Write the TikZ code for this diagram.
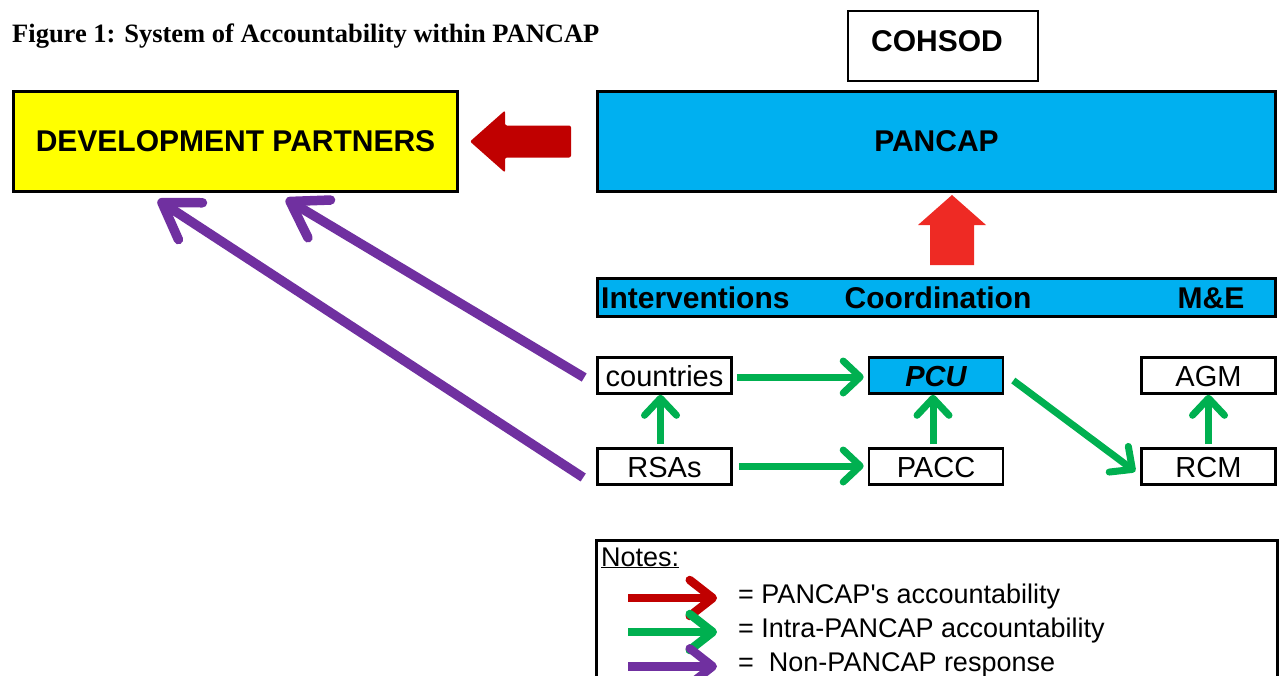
\documentclass[tikz,border=0pt]{standalone}
\usepackage{fontspec}
\setmainfont{Liberation Sans}
\newfontfamily\titlefont{Liberation Serif}
\usetikzlibrary{arrows.meta,calc}
\definecolor{cyanbox}{HTML}{00B0F0}
\definecolor{yellowbox}{HTML}{FFFF00}
\definecolor{darkred}{HTML}{C00000}
\definecolor{brightred}{HTML}{EE2A24}
\definecolor{accgreen}{HTML}{00B050}
\definecolor{accpurple}{HTML}{7030A0}
\tikzset{
  bigbox/.style={draw, line width=3pt, inner sep=0pt, font=\fontsize{30}{36}\selectfont\bfseries},
  smallbox/.style={draw, line width=2.6pt, inner sep=0pt, minimum width=134pt, minimum height=36pt,
    font=\fontsize{29}{34}\selectfont, text height=21pt, text depth=0pt},
  bartext/.style={anchor=base, font=\fontsize{30}{36}\selectfont\bfseries, inner sep=0pt},
  garrow/.style={accgreen, line width=7pt, -{Straight Barb[length=17pt,width=32pt,round]}},
  parrow/.style={accpurple, line width=9.5pt, -{Straight Barb[length=34pt,width=44pt,round]}},
  legarrow/.style={line width=8.5pt, -{Straight Barb[length=23pt,width=36pt,round]}},
  legtext/.style={anchor=base west, inner sep=0pt, font=\fontsize{27}{32}\selectfont},
}
\begin{document}
\begin{tikzpicture}[x=1pt,y=-1pt]
\useasboundingbox (0,0) rectangle (1280,675);
\clip (0,0) rectangle (1280,675);
% title
\node[anchor=base west, inner sep=0pt, font=\titlefont\fontsize{26.5}{31}\selectfont\bfseries] (title) at (12,42) {Figure 1: System of Accountability within PANCAP};
% top boxes
\node[bigbox, fill=yellowbox, minimum width=444pt, minimum height=100pt] (dp) at (235.5,141.5) {DEVELOPMENT PARTNERS};
\node[bigbox, fill=cyanbox, minimum width=678pt, minimum height=100pt] (pancap) at (936.5,141.5) {PANCAP};
\node[draw, line width=2pt, minimum width=190pt, minimum height=70pt, inner sep=0pt] (cohsod) at (943,46) {};
\node[anchor=base, inner sep=0pt, font=\fontsize{30}{36}\selectfont\bfseries] (cohsodtext) at (937,51) {COHSOD};
% bar
\node[draw, line width=3pt, fill=cyanbox, minimum width=678pt, minimum height=38pt, inner sep=0pt] (bar) at (936.5,297.5) {};
\node[bartext, anchor=base west] (interv) at (601,308) {Interventions};
\node[bartext] (coord) at (938,308) {Coordination};
\node[bartext] (me) at (1211,308) {M\&E};
% small boxes
\node[smallbox] (countries) at (664.5,375.5) {countries};
\node[smallbox, fill=cyanbox, font=\fontsize{29}{34}\selectfont\bfseries\itshape] (pcu) at (936,375.5) {PCU};
\node[smallbox] (agm) at (1208.5,375.5) {AGM};
\node[smallbox] (rsas) at (664.5,466.5) {RSAs};
\node[smallbox] (pacc) at (936,466.5) {PACC};
\node[smallbox] (rcm) at (1208.5,466.5) {RCM};
% red block arrow (PANCAP -> DP)
\path (dp.east) ++(11,0) coordinate (rt);
\fill[darkred, rounded corners=2pt] (rt) -- ++(35,-31) -- ++(0,15) -- ++(66,0) -- ++(0,32) -- ++(-66,0) -- ++(0,15) -- cycle;
% bright red up arrow (bar -> PANCAP)
\path (pancap.south) ++(15.5,2) coordinate (ut);
\fill[brightred] (ut) -- ++(34,30) -- ++(-12,0) -- ++(0,40) -- ++(-44,0) -- ++(0,-40) -- ++(-12,0) -- cycle;
% green arrows
\draw[garrow] ($(countries.east)+(4,1.5)$) -- ($(pcu.west)+(-4,1.5)$);
\draw[garrow] ($(rsas.east)+(6,-0.5)$) -- ($(pacc.west)+(-4,-0.5)$);
\draw[garrow] ($(rsas.north)+(-4,-3)$) -- ($(countries.south)+(-4,0)$);
\draw[garrow] ($(pacc.north)+(-3,-3)$) -- ($(pcu.south)+(-3,0)$);
\draw[garrow] ($(rcm.north)+(0,-3)$) -- ($(agm.south)+(0,0)$);
\draw[garrow] ($(pcu.east)+(9,5)$) -- ($(rcm.west)+(-5,5)$);
% purple arrows
\draw[parrow] ($(countries.west)+(-12,2)$) -- ($(dp.south west)+(274,6)$);
\draw[parrow] ($(rsas.west)+(-13,11)$) -- ($(dp.south west)+(146,7)$);
% notes
\draw[line width=3pt] (596,700) -- (596,540) -- (1277,540) -- (1277,700);
\node[anchor=base west, inner sep=0pt, font=\fontsize{27}{32}\selectfont] (notes) at (601,566) {\underline{Notes:}};
\node[legtext] (l1) at (738,603) {= PANCAP\textquotesingle s accountability};
\node[legtext] (l2) at (738,637) {= Intra-PANCAP accountability};
\node[legtext] (l3) at (738,671) {=\ \ Non-PANCAP response};
\draw[legarrow, darkred] ($(l1.west)+(-110,2)$) -- ($(l1.west)+(-21,2)$);
\draw[legarrow, accgreen] ($(l2.west)+(-110,2)$) -- ($(l2.west)+(-21,2)$);
\draw[legarrow, accpurple] ($(l3.west)+(-110,2)$) -- ($(l3.west)+(-21,2)$);
\end{tikzpicture}
\end{document}
